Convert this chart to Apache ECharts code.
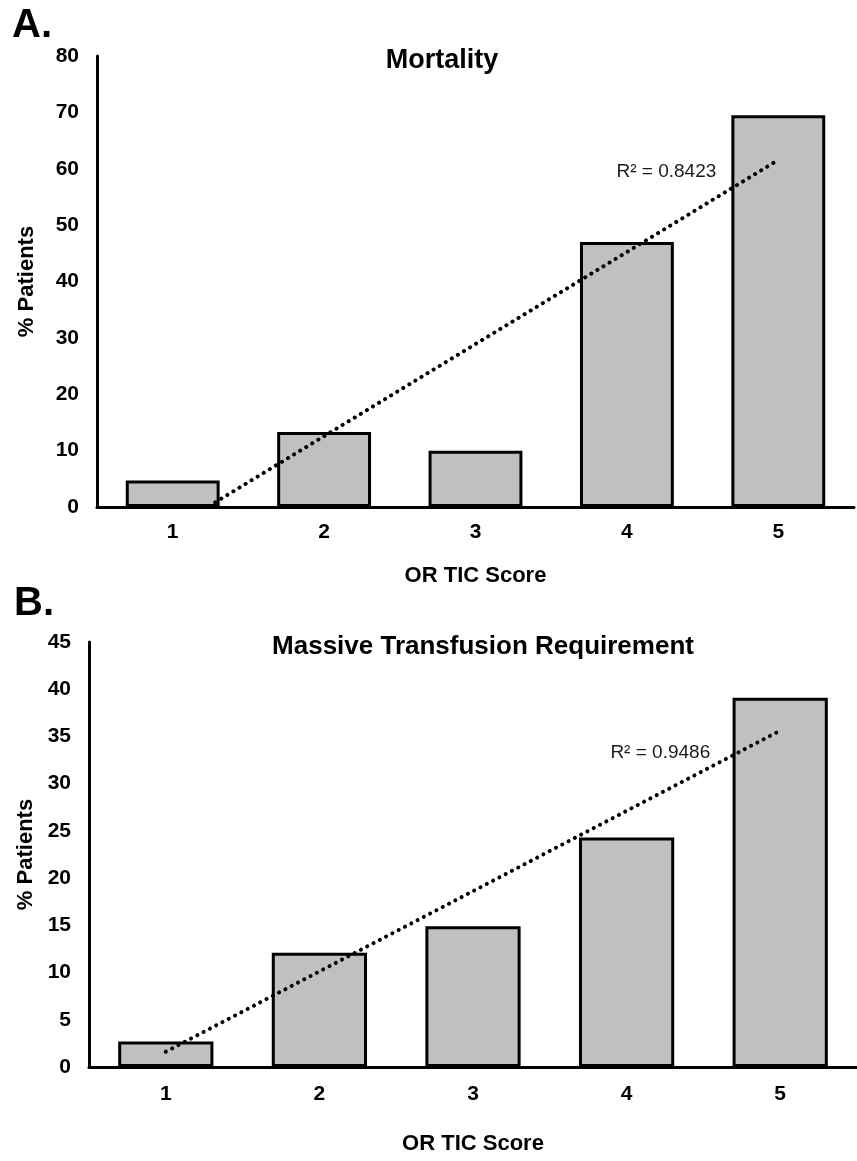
<!DOCTYPE html>
<html>
<head>
<meta charset="utf-8">
<script src="https://cdn.jsdelivr.net/npm/echarts@6/dist/echarts.min.js"></script>
<style>
html,body{margin:0;padding:0;background:#fff;}
#chart{width:857px;height:1161px;}
</style>
</head>
<body>
<div id="chart"></div>
<script>
// ---- data ----
const categories = ['1', '2', '3', '4', '5'];
const mortality = [4.7, 13.3, 10.0, 47.0, 69.5];
const transfusion = [2.7, 12.1, 14.9, 24.3, 39.1];
const mortalityTicks = { min: 0, max: 80, interval: 10 };
const transfusionTicks = { min: 0, max: 45, interval: 5 };
const mortalityR2 = 'R² = 0.8423';
const transfusionR2 = 'R² = 0.9486';
const panelLetters = ['A.', 'B.'];
const titles = ['Mortality', 'Massive Transfusion Requirement'];
const xName = 'OR TIC Score';
const yName = '% Patients';

// linear least-squares trendline over x = 1..n
function trend(vals) {
  const n = vals.length;
  const xs = vals.map((_, i) => i + 1);
  const mx = xs.reduce((a, b) => a + b, 0) / n;
  const my = vals.reduce((a, b) => a + b, 0) / n;
  let sxy = 0, sxx = 0;
  for (let i = 0; i < n; i++) { sxy += (xs[i] - mx) * (vals[i] - my); sxx += (xs[i] - mx) ** 2; }
  const b = sxy / sxx, a = my - b * mx;
  return [[0, a + b * 1], [n - 1, a + b * n]];
}

const FONT = "'Liberation Sans', Arial, sans-serif";
const chart = echarts.init(document.getElementById('chart'), null, { renderer: 'canvas' });

function xAxisCfg(gi, margin, gap) {
  return {
    type: 'category', gridIndex: gi, data: categories,
    axisLine: { lineStyle: { color: '#000', width: 3 } },
    axisTick: { show: false },
    axisLabel: { color: '#000', fontFamily: FONT, fontWeight: 'bold', fontSize: 21, margin: margin },
    name: xName, nameLocation: 'middle', nameGap: gap,
    nameTextStyle: { color: '#000', fontFamily: FONT, fontWeight: 'bold', fontSize: 22 }
  };
}
function yAxisCfg(gi, ticks, gap) {
  return {
    type: 'value', gridIndex: gi, min: ticks.min, max: ticks.max, interval: ticks.interval,
    axisLine: { show: true, lineStyle: { color: '#000', width: 3 } },
    axisTick: { show: false },
    splitLine: { show: false },
    axisLabel: { color: '#000', fontFamily: FONT, fontWeight: 'bold', fontSize: 21, margin: 18 },
    name: yName, nameLocation: 'middle', nameGap: gap, nameRotate: 90,
    nameTextStyle: { color: '#000', fontFamily: FONT, fontWeight: 'bold', fontSize: 22 }
  };
}
function barSeries(gi, vals) {
  return {
    type: 'bar', xAxisIndex: gi, yAxisIndex: gi, data: vals, barWidth: '62%',
    itemStyle: { color: '#c0c0c0', borderColor: '#000', borderWidth: 3 },
    silent: true, animation: false
  };
}
function trendSeries(gi, vals, text, offset, dist) {
  const pts = trend(vals);
  return {
    type: 'line', xAxisIndex: gi, yAxisIndex: gi, clip: true,
    data: [
      { value: pts[0] },
      { value: pts[1], label: { show: true, formatter: text, position: 'left', distance: dist, offset: offset,
          color: '#1a1a1a', fontFamily: "'Liberation Sans Narrow', 'Liberation Sans', Arial, sans-serif", fontSize: 19 } }
    ],
    showSymbol: true, symbol: 'circle', symbolSize: 0,
    lineStyle: { color: '#000', width: 4, type: [0.1, 7], cap: 'round' },
    silent: true, animation: false, z: 5
  };
}

chart.setOption({
  backgroundColor: '#fff',
  animation: false,
  title: [
    { text: titles[0], left: 437, top: 42, textAlign: 'center',
      textStyle: { color: '#000', fontFamily: FONT, fontWeight: 'bold', fontSize: 27 } },
    { text: titles[1], left: 478, top: 629, textAlign: 'center',
      textStyle: { color: '#000', fontFamily: FONT, fontWeight: 'bold', fontSize: 26 } }
  ],
  graphic: [
    { type: 'text', left: 12, top: 6, style: { text: panelLetters[0], fill: '#000', font: "bold 40px " + FONT } },
    { type: 'text', left: 14, top: 584, style: { text: panelLetters[1], fill: '#000', font: "bold 40px " + FONT } }
  ],
  grid: [
    { left: 97, top: 56, width: 757, height: 451 },
    { left: 89, top: 642, width: 779, height: 425 }
  ],
  xAxis: [xAxisCfg(0, 15, 58), xAxisCfg(1, 17, 66)],
  yAxis: [yAxisCfg(0, mortalityTicks, 59), yAxisCfg(1, transfusionTicks, 50)],
  series: [
    barSeries(0, mortality),
    trendSeries(0, mortality, mortalityR2, [0, 12], 62),
    barSeries(1, transfusion),
    trendSeries(1, transfusion, transfusionR2, [0, 22], 70)
  ]
});
</script>
</body>
</html>
